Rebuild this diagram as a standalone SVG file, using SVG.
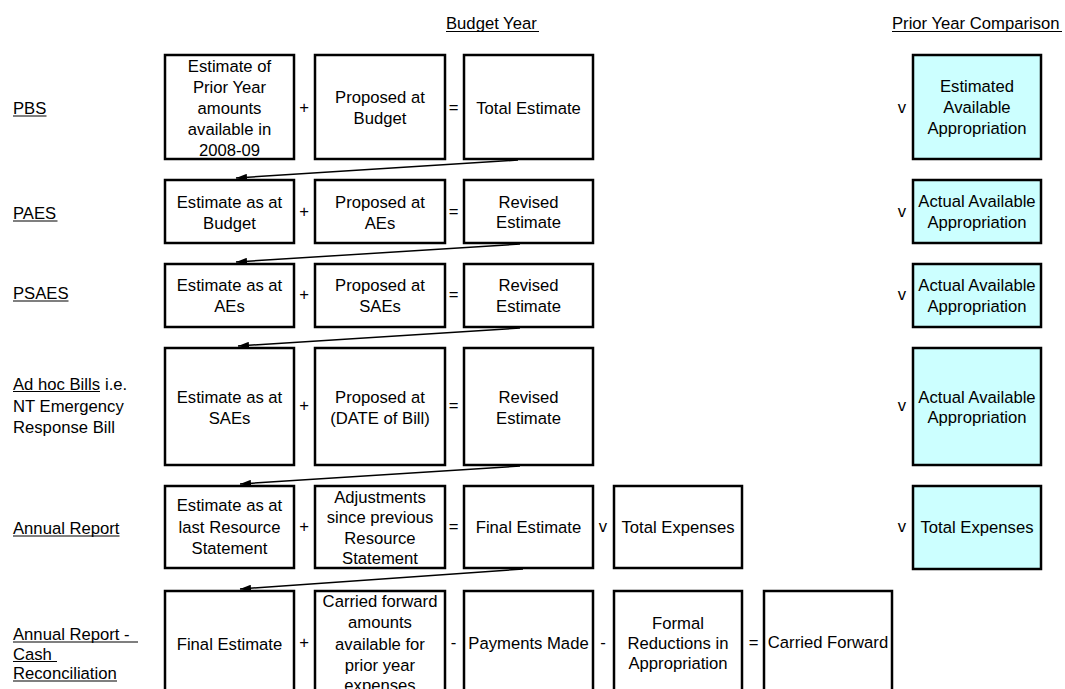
<svg xmlns="http://www.w3.org/2000/svg" width="1065" height="689" viewBox="0 0 1065 689">
<defs>
<style>
text{font-family:"Liberation Sans",Arial,sans-serif;font-size:16.67px;fill:#000}
.c{text-anchor:middle}
.box rect{fill:#fff;stroke:#000;stroke-width:2.5}
.py rect{fill:#ccffff;stroke:#000;stroke-width:2.5}
.ul{stroke:#000;stroke-width:1.2}
.conn line{stroke:#000;stroke-width:1.5}
</style>
<marker id="ah" markerUnits="userSpaceOnUse" markerWidth="11" markerHeight="7" refX="11" refY="3.5" orient="auto">
<path d="M0,0 L11,3.5 L0,7 z" fill="#000"/>
</marker>
</defs>
<rect width="1065" height="689" fill="#fff"/>

<g id="headers">
<text x="446" y="29">Budget Year</text>
<line class="ul" x1="446" y1="31.5" x2="539" y2="31.5"/>
<text x="892" y="29">Prior Year Comparison</text>
<line class="ul" x1="892" y1="31.5" x2="1062" y2="31.5"/>
</g>

<g id="labels">
<text x="13" y="114">PBS</text>
<line class="ul" x1="13" y1="116" x2="46.5" y2="116"/>
<text x="13" y="219">PAES</text>
<line class="ul" x1="13" y1="221" x2="57.5" y2="221"/>
<text x="13" y="299">PSAES</text>
<line class="ul" x1="13" y1="301" x2="68.5" y2="301"/>
<text x="13" y="389.5">Ad hoc Bills</text>
<line class="ul" x1="13" y1="391.5" x2="100" y2="391.5"/>
<text x="105" y="389.5">i.e.</text>
<text x="13" y="411.5">NT Emergency</text>
<text x="13" y="433">Response Bill</text>
<text x="13" y="534">Annual Report</text>
<line class="ul" x1="13" y1="536" x2="119.5" y2="536"/>
<text x="13" y="640">Annual Report -</text>
<line class="ul" x1="13" y1="642" x2="138" y2="642"/>
<text x="13" y="659.5">Cash</text>
<line class="ul" x1="13" y1="661.5" x2="57" y2="661.5"/>
<text x="13" y="679">Reconciliation</text>
<line class="ul" x1="13" y1="681" x2="117" y2="681"/>
</g>

<g id="operators" class="c">
<text class="c" x="304" y="113">+</text>
<text class="c" x="453.5" y="113">=</text>
<text class="c" x="902" y="113">v</text>
<text class="c" x="304" y="217">+</text>
<text class="c" x="453.5" y="217">=</text>
<text class="c" x="902" y="217">v</text>
<text class="c" x="304" y="300">+</text>
<text class="c" x="453.5" y="300">=</text>
<text class="c" x="902" y="300">v</text>
<text class="c" x="304" y="411">+</text>
<text class="c" x="453.5" y="411">=</text>
<text class="c" x="902" y="411">v</text>
<text class="c" x="304" y="532">+</text>
<text class="c" x="453.5" y="532">=</text>
<text class="c" x="603" y="532">v</text>
<text class="c" x="902" y="532">v</text>
<text class="c" x="304" y="648">+</text>
<text class="c" x="453.5" y="648">-</text>
<text class="c" x="603" y="648">-</text>
<text class="c" x="753.5" y="648">=</text>
</g>

<g id="pbs-prior" class="box"><rect x="165" y="55" width="129" height="104"/>
<text class="c" x="229.5" y="72">Estimate of</text><text class="c" x="229.5" y="93">Prior Year</text><text class="c" x="229.5" y="114">amounts</text><text class="c" x="229.5" y="135">available in</text><text class="c" x="229.5" y="156">2008-09</text></g>
<g id="pbs-proposed" class="box"><rect x="315" y="55" width="130" height="104"/>
<text class="c" x="380" y="103">Proposed at</text><text class="c" x="380" y="124">Budget</text></g>
<g id="pbs-total" class="box"><rect x="464" y="55" width="129" height="104"/>
<text class="c" x="528.5" y="114">Total Estimate</text></g>
<g id="pbs-py" class="py"><rect x="913" y="55" width="128" height="104"/>
<text class="c" x="977" y="92">Estimated</text><text class="c" x="977" y="113">Available</text><text class="c" x="977" y="134">Appropriation</text></g>

<g id="paes-est" class="box"><rect x="165" y="180" width="129" height="63"/>
<text class="c" x="229.5" y="208">Estimate as at</text><text class="c" x="229.5" y="229">Budget</text></g>
<g id="paes-proposed" class="box"><rect x="315" y="180" width="130" height="63"/>
<text class="c" x="380" y="208">Proposed at</text><text class="c" x="380" y="229">AEs</text></g>
<g id="paes-revised" class="box"><rect x="464" y="180" width="129" height="63"/>
<text class="c" x="528.5" y="208">Revised</text><text class="c" x="528.5" y="228">Estimate</text></g>
<g id="paes-py" class="py"><rect x="913" y="180" width="128" height="63"/>
<text class="c" x="977" y="207">Actual Available</text><text class="c" x="977" y="228">Appropriation</text></g>

<g id="psaes-est" class="box"><rect x="165" y="264" width="129" height="63"/>
<text class="c" x="229.5" y="291">Estimate as at</text><text class="c" x="229.5" y="312">AEs</text></g>
<g id="psaes-proposed" class="box"><rect x="315" y="264" width="130" height="63"/>
<text class="c" x="380" y="291">Proposed at</text><text class="c" x="380" y="312">SAEs</text></g>
<g id="psaes-revised" class="box"><rect x="464" y="264" width="129" height="63"/>
<text class="c" x="528.5" y="291">Revised</text><text class="c" x="528.5" y="312">Estimate</text></g>
<g id="psaes-py" class="py"><rect x="913" y="264" width="128" height="63"/>
<text class="c" x="977" y="291">Actual Available</text><text class="c" x="977" y="312">Appropriation</text></g>

<g id="adhoc-est" class="box"><rect x="165" y="348" width="129" height="117"/>
<text class="c" x="229.5" y="403">Estimate as at</text><text class="c" x="229.5" y="424">SAEs</text></g>
<g id="adhoc-proposed" class="box"><rect x="315" y="348" width="130" height="117"/>
<text class="c" x="380" y="403">Proposed at</text><text class="c" x="380" y="424">(DATE of Bill)</text></g>
<g id="adhoc-revised" class="box"><rect x="464" y="348" width="129" height="117"/>
<text class="c" x="528.5" y="403">Revised</text><text class="c" x="528.5" y="424">Estimate</text></g>
<g id="adhoc-py" class="py"><rect x="913" y="348" width="128" height="117"/>
<text class="c" x="977" y="403">Actual Available</text><text class="c" x="977" y="423">Appropriation</text></g>

<g id="ar-est" class="box"><rect x="165" y="486" width="129" height="82"/>
<text class="c" x="229.5" y="511">Estimate as at</text><text class="c" x="229.5" y="533">last Resource</text><text class="c" x="229.5" y="554">Statement</text></g>
<g id="ar-adj" class="box"><rect x="315" y="486" width="130" height="82"/>
<text class="c" x="380" y="503">Adjustments</text><text class="c" x="380" y="523">since previous</text><text class="c" x="380" y="544">Resource</text><text class="c" x="380" y="564">Statement</text></g>
<g id="ar-final" class="box"><rect x="464" y="486" width="129" height="82"/>
<text class="c" x="528.5" y="533">Final Estimate</text></g>
<g id="ar-exp" class="box"><rect x="614" y="486" width="128" height="82"/>
<text class="c" x="678" y="533">Total Expenses</text></g>
<g id="ar-py" class="py"><rect x="913" y="486" width="128" height="83"/>
<text class="c" x="977" y="533">Total Expenses</text></g>

<g id="cash-final" class="box"><rect x="165" y="591" width="129" height="110"/>
<text class="c" x="229.5" y="650">Final Estimate</text></g>
<g id="cash-cf" class="box"><rect x="315" y="591" width="130" height="110"/>
<text class="c" x="380" y="607">Carried forward</text><text class="c" x="380" y="628">amounts</text><text class="c" x="380" y="650">available for</text><text class="c" x="380" y="671">prior year</text><text class="c" x="380" y="691">expenses</text></g>
<g id="cash-pay" class="box"><rect x="464" y="591" width="129" height="110"/>
<text class="c" x="528.5" y="649">Payments Made</text></g>
<g id="cash-red" class="box"><rect x="614" y="591" width="128" height="110"/>
<text class="c" x="678" y="629">Formal</text><text class="c" x="678" y="649">Reductions in</text><text class="c" x="678" y="669">Appropriation</text></g>
<g id="cash-cfwd" class="box"><rect x="764" y="591" width="128" height="110"/>
<text class="c" x="828" y="648">Carried Forward</text></g>

<g id="connectors" class="conn">
<line x1="518" y1="160" x2="236" y2="178" marker-end="url(#ah)"/>
<line x1="520" y1="244" x2="236" y2="262" marker-end="url(#ah)"/>
<line x1="520" y1="328" x2="238" y2="346" marker-end="url(#ah)"/>
<line x1="520" y1="466" x2="240" y2="484" marker-end="url(#ah)"/>
<line x1="523" y1="569" x2="240" y2="589" marker-end="url(#ah)"/>
</g>
</svg>
